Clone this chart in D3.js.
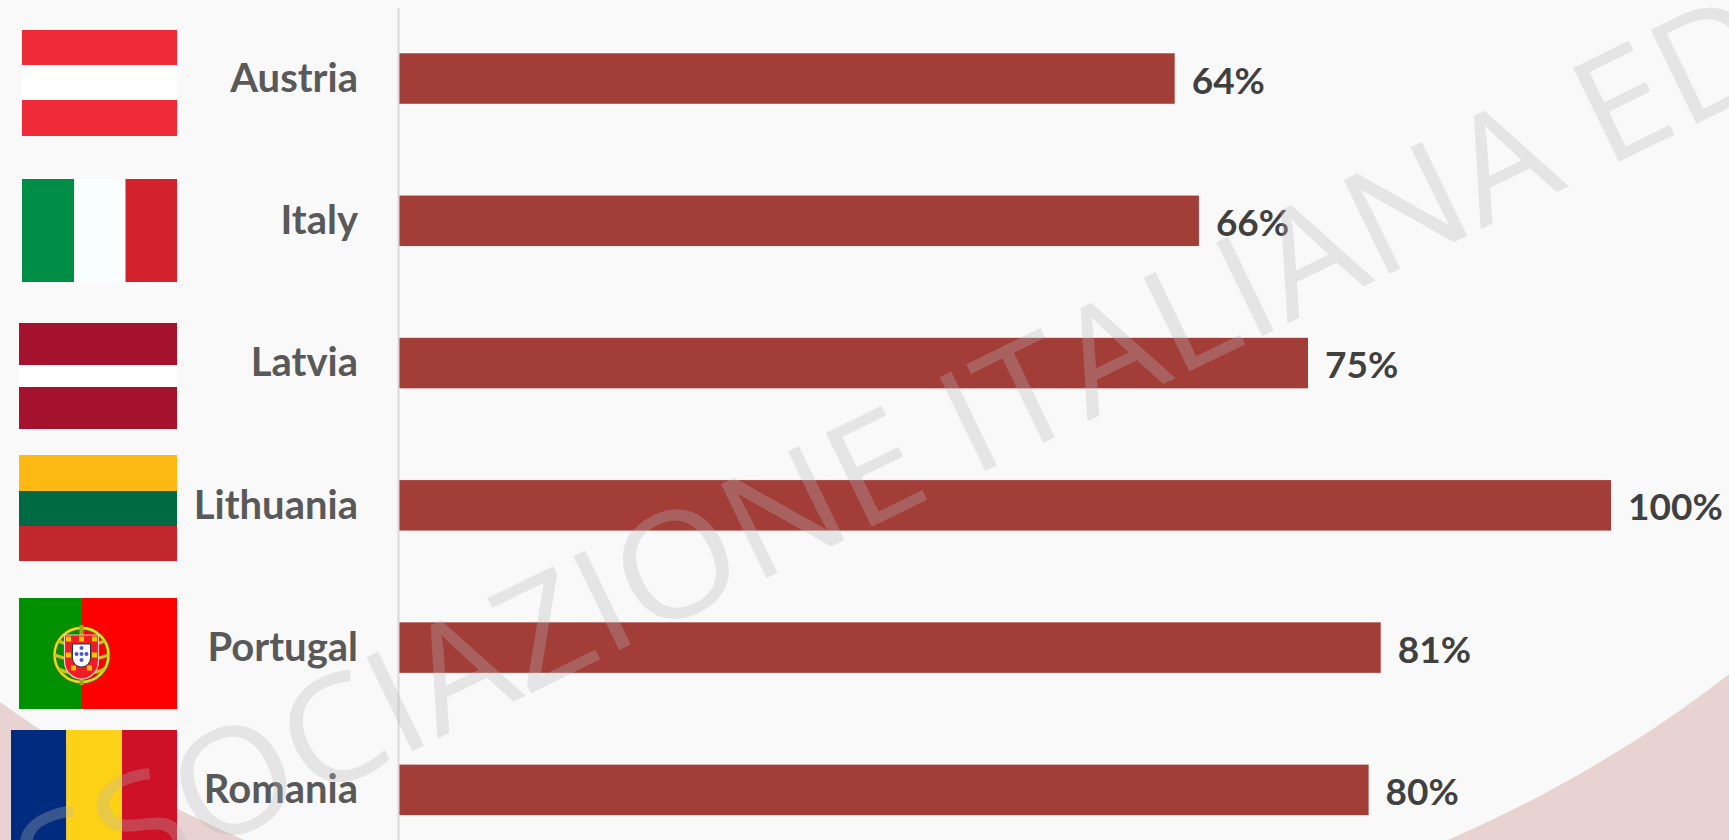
<!DOCTYPE html>
<html>
<head>
<meta charset="utf-8">
<style>
  html, body { margin: 0; padding: 0; background: #e8d2d2; overflow: hidden; }
  svg { display: block; }
  .cat text { font: 700 40px Lato, sans-serif; fill: #595959; }
  .val { font: 700 37px Lato, sans-serif; fill: #404040; }
  .mark { font: 500 100px "Open Sans", sans-serif; fill: rgba(183,183,183,0.3); }
</style>
<script src="https://cdn.jsdelivr.net/npm/d3@7/dist/d3.min.js"></script>
</head>
<body>
<script>
// Share of each country, top to bottom
const countries = ["Austria", "Italy", "Latvia", "Lithuania", "Portugal", "Romania"];
const shares = [64, 66, 75, 100, 81, 80];

const W = 1729, H = 840;
const svg = d3.select("body").append("svg").attr("width", W).attr("height", H);

// Pale slide panel; its curved edge leaves pink corners at the bottom
svg.append("rect").attr("width", W).attr("height", H).attr("fill", "#e8d2d2");
svg.append("ellipse")
  .attr("cx", 846).attr("cy", -87).attr("rx", 1282).attr("ry", 1050)
  .attr("fill", "#f9f9f9");

const x = d3.scaleLinear().domain([0, 100]).range([399, 1611]);
const y = d3.scaleBand().domain(countries).range([7.4, 861])
  .paddingInner(0.645).paddingOuter(0.3225);

// Bars and value labels
svg.selectAll("rect.bar").data(countries).join("rect")
  .attr("class", "bar")
  .attr("x", x(0))
  .attr("y", d => y(d))
  .attr("width", (d, i) => x(shares[i]) - x(0))
  .attr("height", y.bandwidth())
  .attr("fill", "#a33d38");

svg.selectAll("text.val").data(countries).join("text")
  .attr("class", "val")
  .attr("x", (d, i) => x(shares[i]) + 17)
  .attr("y", d => y(d) + y.bandwidth() / 2 + 15)
  .text((d, i) => shares[i] + "%");

// Category axis
const axis = svg.append("g").attr("class", "cat")
  .attr("transform", "translate(398,0)")
  .call(d3.axisLeft(y).tickSize(0).tickPadding(40));
axis.select(".domain").attr("stroke", "#d9d9d9").attr("stroke-width", 2);
axis.selectAll("text").attr("dy", "0.33em").attr("fill", "#595959");

// Flags
const flagGroup = svg.append("g");
function stripes(box, dir, cuts, colors) {
  const edges = [dir === "h" ? box.y0 : box.x0, ...cuts, dir === "h" ? box.y1 : box.x1];
  colors.forEach((c, i) => {
    const r = flagGroup.append("rect").attr("fill", c);
    if (dir === "h") r.attr("x", box.x0).attr("width", box.x1 - box.x0).attr("y", edges[i]).attr("height", edges[i + 1] - edges[i]);
    else r.attr("y", box.y0).attr("height", box.y1 - box.y0).attr("x", edges[i]).attr("width", edges[i + 1] - edges[i]);
  });
}
stripes({x0: 22, x1: 177, y0: 30, y1: 136}, "h", [65, 100], ["#ef2b3a", "#ffffff", "#ef2b3a"]);
stripes({x0: 22, x1: 177, y0: 179, y1: 282}, "v", [74, 125.5], ["#008d46", "#f9ffff", "#d2232c"]);
stripes({x0: 19, x1: 177, y0: 323, y1: 429}, "h", [365, 387], ["#a4122d", "#ffffff", "#a4122d"]);
stripes({x0: 19, x1: 177, y0: 455, y1: 561}, "h", [491, 526], ["#fdb913", "#006a44", "#c1272d"]);
stripes({x0: 19, x1: 177, y0: 598, y1: 709}, "v", [82], ["#009000", "#ff0000"]);
stripes({x0: 11, x1: 177, y0: 730, y1: 840}, "v", [66.3, 122], ["#002b7f", "#fcd116", "#ce1126"]);

// Portuguese coat of arms
const arms = flagGroup.append("g").attr("transform", "translate(81.5,655)");
arms.append("circle").attr("r", 27).attr("fill", "none").attr("stroke", "#5d6a0a").attr("stroke-width", 4);
arms.append("circle").attr("r", 27).attr("fill", "none").attr("stroke", "#e6e01a").attr("stroke-width", 2.4);
[-14, 0, 14].forEach(dy => {
  const half = Math.sqrt(27 * 27 - dy * dy);
  arms.append("path")
    .attr("d", `M${-half},${dy}Q0,${dy + 10} ${half},${dy}`)
    .attr("fill", "none").attr("stroke", "#c9c61a").attr("stroke-width", 3);
});
arms.append("line").attr("y1", -30).attr("y2", 30).attr("stroke", "#a8a512").attr("stroke-width", 4);
arms.append("path").attr("d", "M-17,-20H17V6A17,18 0 0 1 -17,6Z")
  .attr("fill", "#ee1c25").attr("stroke", "#f4c8c8").attr("stroke-width", 1.2);
arms.append("path").attr("d", "M-9,-11H9V3A9,9 0 0 1 -9,3Z")
  .attr("fill", "#fff").attr("stroke", "#333").attr("stroke-width", 1);
[[0, -7], [-5, -1], [0, -1], [5, -1], [0, 5]].forEach(([a, b]) => {
  arms.append("circle").attr("cx", a).attr("cy", b).attr("r", 2).attr("fill", "#4a55d8");
});
[[-13, -16], [0, -16], [13, -16], [-13, 0], [13, 0], [-8, 13], [8, 13]].forEach(([a, b]) => {
  arms.append("rect").attr("x", a - 2.5).attr("y", b - 2.5).attr("width", 5).attr("height", 5).attr("fill", "#ffc600");
});

// Diagonal watermark across the whole slide, sheared like the slide's artwork.
// The baseline runs between the foot of the E in "ASSOCIAZIONE" and the foot of the E in "ED".
const markWords = "ASSOCIAZIONE ITALIANA EDITORI";
const mark = svg.append("text").attr("class", "mark").text(markWords);
const node = mark.node();
const firstE = markWords.indexOf("E ITALIANA"), secondE = markWords.indexOf("EDITORI");
const span = node.getStartPositionOfChar(secondE).x - node.getStartPositionOfChar(firstE).x;
const a = (1619 - 871.7) / span, b = (161.7 - 526.7) / span;
const c = 0.64, d = 1.316;
const lead = node.getStartPositionOfChar(secondE).x + 9.8;
mark.attr("transform", `matrix(${a},${b},${c},${d},${1619 - a * lead},${161.7 - b * lead})`);
</script>
</body>
</html>
